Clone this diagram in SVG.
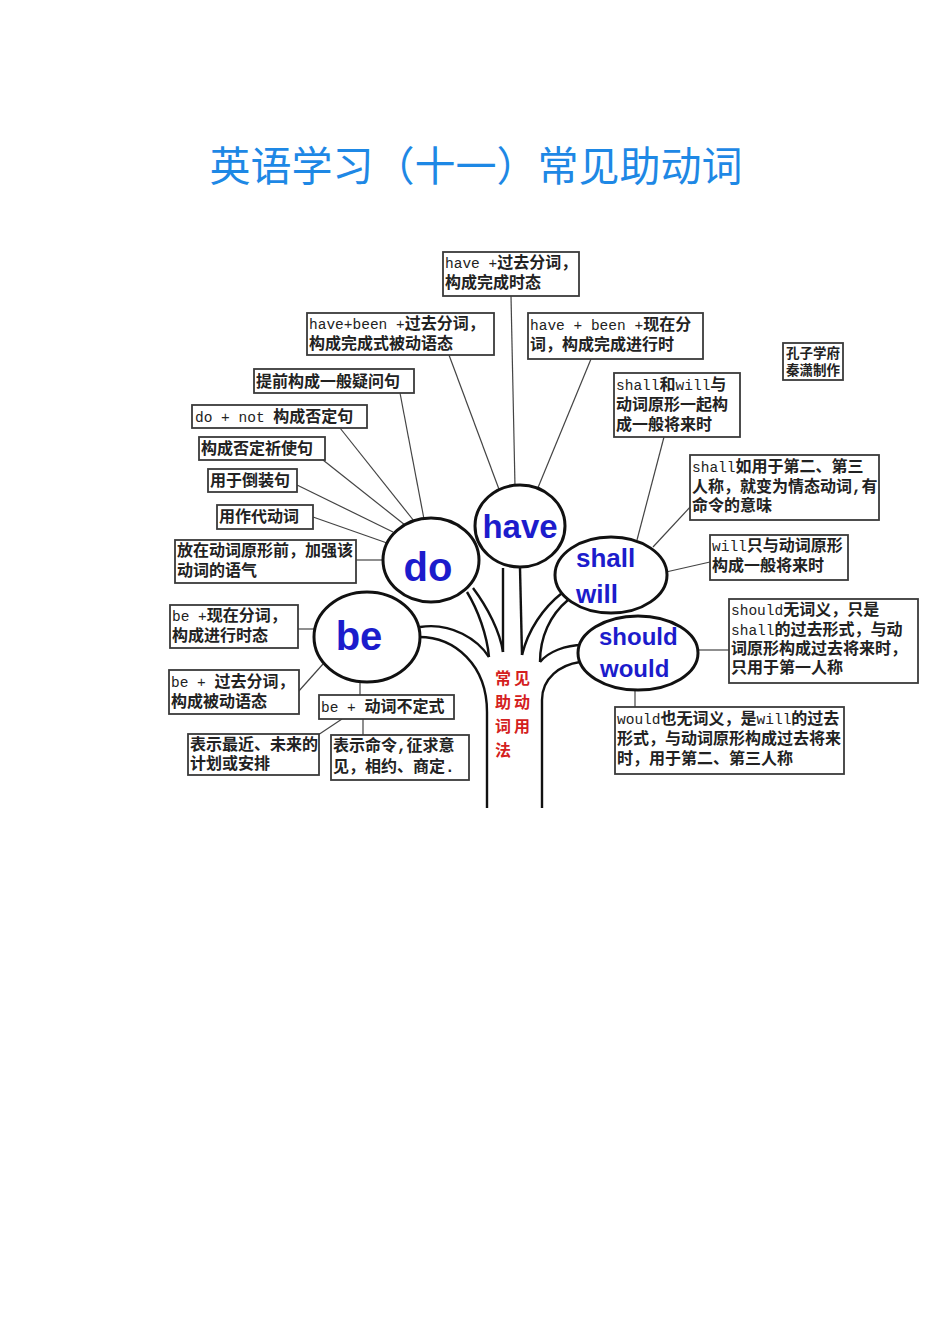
<svg xmlns="http://www.w3.org/2000/svg" width="950" height="1344" viewBox="0 0 950 1344">
<style>
.title{font-family:"Noto Sans CJK SC","Liberation Serif",serif;font-size:41px;fill:#1e88e5;}
.box rect{fill:#fff;stroke:#3a3a3a;stroke-width:1.8;}
.box text{font-family:"Liberation Mono","Noto Sans CJK SC",monospace;font-size:16px;font-weight:bold;fill:#222;}
.box text.s{font-size:13.5px;}
.m{font-family:"Liberation Mono",monospace;font-size:14.5px;font-weight:normal;}
.conn line{stroke:#444;stroke-width:1.2;}
.trunk path{fill:none;stroke:#111;stroke-width:2.4;}
.node ellipse{fill:#fff;stroke:#111;stroke-width:3;}
.node text{font-family:"Liberation Sans",Arial,sans-serif;font-weight:bold;fill:#1c1ccc;}
.center text{font-family:"Noto Sans CJK SC",serif;font-size:16px;font-weight:bold;fill:#d42020;}
</style>
<rect x="0" y="0" width="950" height="1344" fill="#fff"/>
<text class="title" x="476" y="181" text-anchor="middle">英语学习（十一）常见助动词</text>

<g id="trunk" class="trunk">
<path d="M419,637 C455,637 487,665 487,712 L487,808"/>
<path d="M420,627 C452,622 478,640 489,657"/>
<path d="M467,592 C478,610 487,635 489,657"/>
<path d="M473,588 C488,608 500,632 503,652"/>
<path d="M503,568 L503,652"/>
<path d="M520,568 L522,655"/>
<path d="M562,593 C543,608 528,630 522,655"/>
<path d="M568,600 C550,615 540,637 540,662"/>
<path d="M583,645 C565,645 548,652 540,662"/>
<path d="M580,662 C560,665 542,678 542,700 L542,808"/>
</g>

<g id="connectors" class="conn">
<line x1="511" y1="296" x2="515" y2="487"/>
<line x1="449" y1="355" x2="500" y2="492"/>
<line x1="591" y1="359" x2="537" y2="490"/>
<line x1="400" y1="393" x2="424" y2="519"/>
<line x1="340" y1="428" x2="414" y2="521"/>
<line x1="323" y1="460" x2="405" y2="525"/>
<line x1="297" y1="485" x2="393" y2="532"/>
<line x1="313" y1="517" x2="387" y2="543"/>
<line x1="356" y1="560" x2="384" y2="560"/>
<line x1="298" y1="629" x2="315" y2="629"/>
<line x1="298" y1="692" x2="323" y2="664"/>
<line x1="360" y1="681" x2="360" y2="695"/>
<line x1="342" y1="719" x2="318" y2="735"/>
<line x1="363" y1="719" x2="363" y2="735"/>
<line x1="664" y1="437" x2="637" y2="540"/>
<line x1="692" y1="505" x2="653" y2="547"/>
<line x1="710" y1="562" x2="666" y2="572"/>
<line x1="697" y1="650" x2="729" y2="650"/>
<line x1="635" y1="689" x2="635" y2="707"/>
</g>

<g id="node-have" class="node"><ellipse cx="520" cy="526" rx="45" ry="41"/><text x="520" y="538" font-size="33" text-anchor="middle">have</text></g>
<g id="node-do" class="node"><ellipse cx="431" cy="560" rx="48" ry="42"/><text x="428" y="581" font-size="40" text-anchor="middle">do</text></g>
<g id="node-be" class="node"><ellipse cx="367" cy="637" rx="53" ry="45"/><text x="359" y="650" font-size="40" text-anchor="middle">be</text></g>
<g id="node-shall" class="node"><ellipse cx="611" cy="575" rx="56" ry="38"/><text x="576" y="567" font-size="26">shall</text><text x="576" y="603" font-size="26">will</text></g>
<g id="node-should" class="node"><ellipse cx="638" cy="653" rx="60" ry="37"/><text x="599" y="645" font-size="24">should</text><text x="600" y="677" font-size="24">would</text></g>

<g id="center-label" class="center">
<text x="495" y="684">常</text><text x="514" y="684">见</text>
<text x="495" y="708">助</text><text x="514" y="708">动</text>
<text x="495" y="732">词</text><text x="514" y="732">用</text>
<text x="495" y="756">法</text>
</g>

<g id="box-have1" class="box"><rect x="443" y="252" width="136" height="44"/><text x="445" y="268"><tspan class="m">have +</tspan>过去分词，</text><text x="445" y="288">构成完成时态</text></g>
<g id="box-have2" class="box"><rect x="307" y="313" width="187" height="42"/><text x="309" y="329"><tspan class="m">have+been +</tspan>过去分词，</text><text x="309" y="349">构成完成式被动语态</text></g>
<g id="box-have3" class="box"><rect x="528" y="313" width="175" height="46"/><text x="530" y="330"><tspan class="m">have + been +</tspan>现在分</text><text x="530" y="350">词，构成完成进行时</text></g>
<g id="box-do1" class="box"><rect x="254" y="369" width="160" height="24"/><text x="256" y="387">提前构成一般疑问句</text></g>
<g id="box-do2" class="box"><rect x="192" y="405" width="175" height="23"/><text x="195" y="422"><tspan class="m">do + not </tspan>构成否定句</text></g>
<g id="box-do3" class="box"><rect x="199" y="437" width="126" height="23"/><text x="201" y="454">构成否定祈使句</text></g>
<g id="box-do4" class="box"><rect x="208" y="469" width="89" height="23"/><text x="210" y="486">用于倒装句</text></g>
<g id="box-do5" class="box"><rect x="217" y="505" width="96" height="24"/><text x="219" y="522">用作代动词</text></g>
<g id="box-do6" class="box"><rect x="175" y="540" width="181" height="43"/><text x="177" y="556">放在动词原形前，加强该</text><text x="177" y="576">动词的语气</text></g>
<g id="box-be1" class="box"><rect x="170" y="605" width="128" height="43"/><text x="172" y="621"><tspan class="m">be +</tspan>现在分词，</text><text x="172" y="641">构成进行时态</text></g>
<g id="box-be2" class="box"><rect x="169" y="670" width="130" height="44"/><text x="171" y="687"><tspan class="m">be + </tspan>过去分词，</text><text x="171" y="707">构成被动语态</text></g>
<g id="box-be3" class="box"><rect x="319" y="695" width="135" height="24"/><text x="321" y="712"><tspan class="m">be + </tspan>动词不定式</text></g>
<g id="box-be4" class="box"><rect x="188" y="734" width="131" height="41"/><text x="190" y="750">表示最近、未来的</text><text x="190" y="769">计划或安排</text></g>
<g id="box-be5" class="box"><rect x="331" y="735" width="138" height="45"/><text x="333" y="751">表示命令,征求意</text><text x="333" y="772">见，相约、商定.</text></g>
<g id="box-shall1" class="box"><rect x="614" y="373" width="126" height="64"/><text x="616" y="390"><tspan class="m">shall</tspan>和<tspan class="m">will</tspan>与</text><text x="616" y="410">动词原形一起构</text><text x="616" y="430">成一般将来时</text></g>
<g id="box-credit" class="box"><rect x="783" y="343" width="60" height="37"/><text class="s" x="786" y="358">孔子学府</text><text class="s" x="786" y="375">秦潇制作</text></g>
<g id="box-shall2" class="box"><rect x="690" y="455" width="189" height="65"/><text x="692" y="472"><tspan class="m">shall</tspan>如用于第二、第三</text><text x="692" y="492">人称，就变为情态动词,有</text><text x="692" y="511">命令的意味</text></g>
<g id="box-will" class="box"><rect x="710" y="535" width="138" height="45"/><text x="712" y="551"><tspan class="m">will</tspan>只与动词原形</text><text x="712" y="571">构成一般将来时</text></g>
<g id="box-should" class="box"><rect x="729" y="599" width="189" height="84"/><text x="731" y="615"><tspan class="m">should</tspan>无词义，只是</text><text x="731" y="635"><tspan class="m">shall</tspan>的过去形式，与动</text><text x="731" y="654">词原形构成过去将来时，</text><text x="731" y="673">只用于第一人称</text></g>
<g id="box-would" class="box"><rect x="615" y="707" width="229" height="67"/><text x="617" y="724"><tspan class="m">would</tspan>也无词义，是<tspan class="m">will</tspan>的过去</text><text x="617" y="744">形式，与动词原形构成过去将来</text><text x="617" y="764">时，用于第二、第三人称</text></g>
</svg>
